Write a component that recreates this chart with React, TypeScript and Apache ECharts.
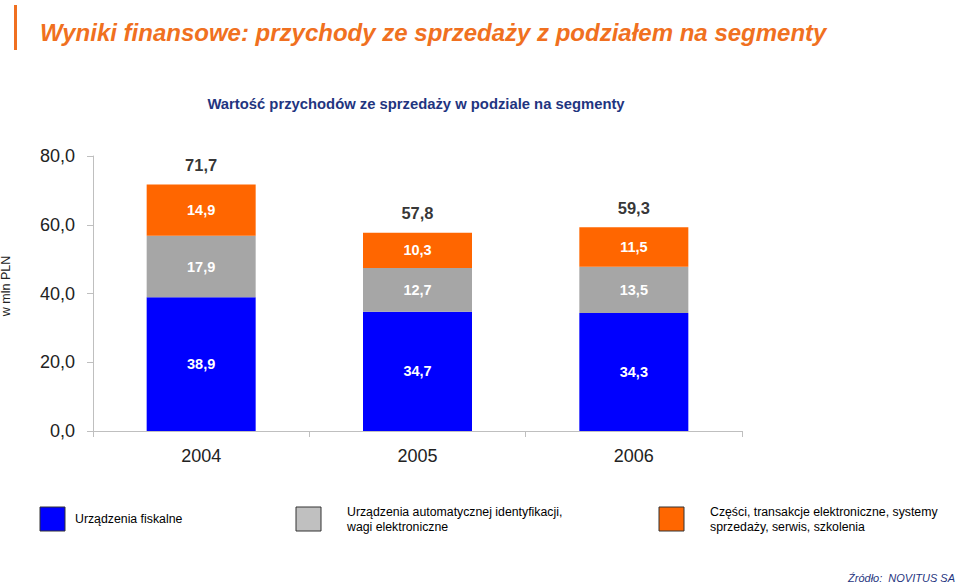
import React, { useEffect, useRef } from "react";
import * as echarts from "echarts";

const categories = ["2004", "2005", "2006"];
const fiskalne = [38.9, 34.7, 34.3];
const identyfikacja = [17.9, 12.7, 13.5];
const czesci = [14.9, 10.3, 11.5];
const totals = [71.7, 57.8, 59.3];
const yTicks = [0, 20, 40, 60, 80];

const seriesNames = [
  "Urządzenia fiskalne",
  "Urządzenia automatycznej identyfikacji,\nwagi elektroniczne",
  "Części, transakcje elektroniczne, systemy\nsprzedaży, serwis, szkolenia",
];
const colors = ["#0000FF", "#A6A6A6", "#FF6600"];
const legendColors = ["#0000FF", "#C0C0C0", "#FF6600"];

const fmt = (v: number) => v.toFixed(1).replace(".", ",");

export default function App() {
  const ref = useRef<HTMLDivElement>(null);
  useEffect(() => {
    if (!ref.current) return;
    const chart = echarts.init(ref.current, undefined, { renderer: "svg" });
    const font = "Arial, 'Liberation Sans', sans-serif";
    const segLabel = {
      show: true,
      position: "inside" as const,
      color: "#ffffff",
      fontWeight: "bold" as const,
      fontSize: 14.5,
      fontFamily: font,
      formatter: (p: any) => fmt(p.value),
    };
    const legendX = [40, 296, 659];
    const legendGraphics: any[] = [];
    seriesNames.forEach((n, i) => {
      legendGraphics.push({
        type: "rect",
        shape: { x: legendX[i], y: 507, width: 25, height: 24 },
        style: { fill: legendColors[i], stroke: "#333", lineWidth: 1 },
      });
      legendGraphics.push({
        type: "text",
        x: legendX[i] + (i === 0 ? 35 : 51),
        y: 519,
        style: {
          text: n,
          fill: "#000",
          fontSize: 12.3,
          lineHeight: 15,
          fontFamily: "'Liberation Sans Narrow', 'Arial Narrow', 'Liberation Sans', Arial, sans-serif",
          verticalAlign: "middle",
        },
      });
    });
    chart.setOption({
      animation: false,
      backgroundColor: "#ffffff",
      grid: { left: 93, right: 218, top: 156, bottom: 153 },
      xAxis: {
        type: "category",
        data: categories,
        axisLine: { lineStyle: { color: "#BFBFBF" } },
        axisTick: { show: true, length: 6, lineStyle: { color: "#BFBFBF" } },
        axisLabel: { color: "#222", fontSize: 18, fontFamily: font, margin: 16 },
      },
      yAxis: {
        type: "value",
        min: 0,
        max: 80,
        interval: 20,
        splitLine: { show: false },
        axisLine: { show: true, lineStyle: { color: "#BFBFBF" } },
        axisTick: { show: true, length: 6, lineStyle: { color: "#BFBFBF" } },
        axisLabel: {
          color: "#222",
          fontSize: 18,
          fontFamily: font,
          margin: 18,
          formatter: (v: number) => (yTicks.includes(v) ? fmt(v) : ""),
        },
      },
      series: [
        { name: seriesNames[0], type: "bar", stack: "s", data: fiskalne, barWidth: 109, itemStyle: { color: colors[0] }, label: segLabel },
        { name: seriesNames[1], type: "bar", stack: "s", data: identyfikacja, barWidth: 109, itemStyle: { color: colors[1] }, label: segLabel },
        { name: seriesNames[2], type: "bar", stack: "s", data: czesci, barWidth: 109, itemStyle: { color: colors[2] }, label: segLabel },
        {
          name: "Suma",
          type: "scatter",
          data: totals,
          symbolSize: 0,
          silent: true,
          label: {
            show: true,
            position: "top",
            distance: 11,
            color: "#000",
            fontWeight: "bold",
            fontSize: 16.5,
            fontFamily: font,
            formatter: (p: any) => fmt(p.value),
          },
        },
      ],
      graphic: [
        { type: "rect", shape: { x: 14, y: 5, width: 3, height: 45 }, style: { fill: "#F07020" } },
        {
          type: "text",
          x: 40,
          y: 32,
          style: {
            text: "Wyniki finansowe: przychody ze sprzedaży z podziałem na segmenty",
            fill: "#F07020",
            fontSize: 24,
            fontWeight: "bold",
            fontStyle: "italic",
            fontFamily: font,
            verticalAlign: "middle",
          },
        },
        {
          type: "text",
          x: 416,
          y: 104,
          style: {
            text: "Wartość przychodów ze sprzedaży w podziale na segmenty",
            fill: "#1F3580",
            fontSize: 14.8,
            fontWeight: "bold",
            fontFamily: font,
            align: "center",
            verticalAlign: "middle",
          },
        },
        {
          type: "text",
          x: 6,
          y: 286,
          rotation: Math.PI / 2,
          style: {
            text: "w mln PLN",
            fill: "#222",
            fontSize: 12.5,
            fontFamily: font,
            align: "center",
            verticalAlign: "middle",
          },
        },
        ...legendGraphics,
        {
          type: "text",
          x: 955,
          y: 578,
          style: {
            text: "Źródło:  NOVITUS SA",
            fill: "#1F3580",
            fontSize: 11,
            fontStyle: "italic",
            fontFamily: "'Liberation Sans Narrow', 'Arial Narrow', 'Liberation Sans', Arial, sans-serif",
            align: "right",
            verticalAlign: "middle",
          },
        },
      ],
    });
    return () => chart.dispose();
  }, []);
  return (
    <div
      ref={ref}
      style={{ position: "fixed", left: 0, top: 0, width: 960, height: 584, background: "#fff" }}
    />
  );
}
